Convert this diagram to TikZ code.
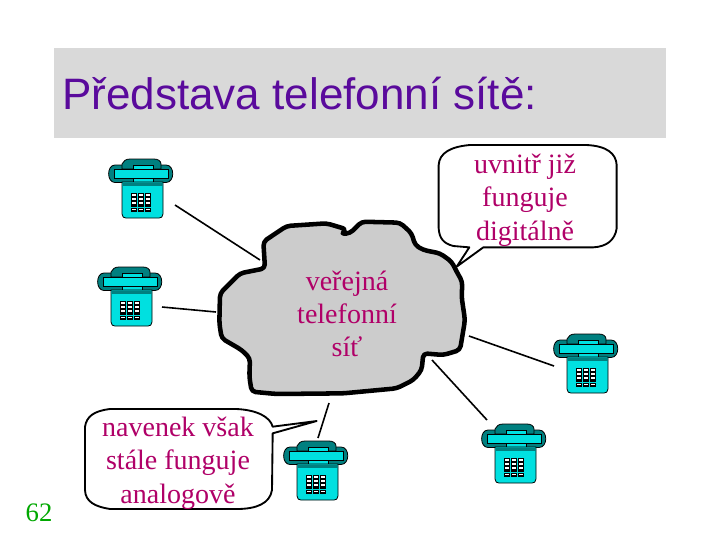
\documentclass[tikz,border=0pt]{standalone}
\usepackage{fontspec}
\setmainfont{Liberation Serif}
\newfontfamily\titlefont{Liberation Sans}
\definecolor{titlegray}{HTML}{D9D9D9}
\definecolor{titleink}{HTML}{5A0A9C}
\definecolor{labelink}{HTML}{B00068}
\definecolor{numink}{HTML}{00A800}
\definecolor{cloudgray}{HTML}{CCCCCC}
\definecolor{phonebright}{HTML}{00E0E0}
\definecolor{phonedark}{HTML}{008080}
\tikzset{
  wire/.style={draw=black,line width=1.2pt},
  bubble/.style={draw=black,fill=white,line width=1.4pt,line join=round},
  labeltext/.style={text=labelink,font=\fontsize{21}{25}\selectfont,align=center,inner sep=0pt},
  phonepart/.style={draw=black,line width=.6pt},
  phone/.pic={
    % ear pieces
    \path[phonepart,fill=phonedark] (7,7) .. controls (-1.5,7) and (-1.5,24.5) .. (7,24.5) -- (58,24.5) .. controls (67,24.5) and (67,7) .. (58,7) -- cycle;
    % cradle
    \path[phonepart,fill=phonedark] (14,11) -- (14,6) .. controls (15,3) and (18,1) .. (22,1) -- (46,1) .. controls (50,1) and (53,3) .. (53,6) -- (53,11) -- cycle;
    % neck
    \path[phonepart,fill=phonebright] (25,7) rectangle (45,24);
    % handset bar
    \path[phonepart,fill=phonebright] (6,11) rectangle (60,20);
    % body
    \path[phonepart,fill=phonebright] (14,24) -- (55,24) -- (55,56) .. controls (55,59) and (53,60) .. (51,60) -- (18,60) .. controls (16,60) and (14,59) .. (14,56) -- cycle;
    \path[fill=phonedark] (14.5,24.5) rectangle (54.5,28);
    % key pad
    \foreach \kx in {23,30,37}{
      \fill[black] (\kx,35) rectangle ++(6,14);
      \fill[white] (\kx+1,36) rectangle ++(4,2);
      \fill[white] (\kx+1,40) rectangle ++(4,2);
      \fill[white] (\kx+1,44) rectangle ++(4,2);
      \fill[black] (\kx,49.5) rectangle ++(6,4);
      \fill[white] (\kx+1,51) rectangle ++(4,1.2);
    }
  }
}
\begin{document}
\begin{tikzpicture}[x=0.75pt,y=-0.75pt]
\useasboundingbox (0,0) rectangle (720,540);
\fill[white] (0,0) rectangle (720,540);
\fill[titlegray] (54,48) rectangle (666,138);
\node[anchor=base west,inner sep=0pt,text=titleink,font=\titlefont\fontsize{33}{36}\selectfont] (title) at (62,109) {Představa telefonní sítě:};
\node[anchor=base,inner sep=0pt,text=numink,font=\fontsize{20}{24}\selectfont] (pagenum) at (39,521) {62};

% connector ends
\coordinate (a1) at (175,205); \coordinate (b1) at (260,260);
\coordinate (a2) at (162,307); \coordinate (b2) at (216,312);
\coordinate (a3) at (554,366); \coordinate (b3) at (469,336);
\coordinate (a4) at (487,420); \coordinate (b4) at (432,360);
\coordinate (a5) at (318,438); \coordinate (b5) at (329,403);
\draw[wire] (a1) -- (b1);
\draw[wire] (a2) -- (b2);
\draw[wire] (a3) -- (b3);
\draw[wire] (a4) -- (b4);
\draw[wire] (a5) -- (b5);

% cloud
\begin{scope}[shift={(210,210)},x=0.25pt,y=-0.25pt]
\draw[fill=cloudgray,draw=black,line width=3.4pt,line join=round,rounded corners=3pt]
 (160,95) -- (230,48) -- (350,40) -- (410,58) -- (392,72) -- (420,70) -- (455,35) -- (570,38)
 -- (605,70) -- (615,105) -- (640,120) -- (690,130) -- (725,155) -- (740,185)
 -- (757,215) -- (755,262) -- (765,330) -- (750,420) -- (700,435) -- (640,430) -- (635,480)
 -- (610,510) -- (560,535) -- (400,550) -- (200,552) -- (125,545) -- (118,500) -- (120,445)
 -- (95,420) -- (35,385) -- (28,340) -- (30,250) -- (90,190) -- (165,175) -- cycle;
\end{scope}
\node[labeltext] (cloudtext) at (347,314) {veřejná\\telefonní\\síť};

% top right bubble
\begin{scope}[shift={(430,140)},x=0.25pt,y=-0.25pt]
\draw[bubble] (118,322) -- (70,318) .. controls (40,310) and (28,295) .. (26,265) -- (26,75)
 .. controls (28,40) and (60,20) .. (120,15) -- (470,15) .. controls (530,18) and (558,40) .. (560,75)
 -- (560,265) .. controls (555,300) and (530,320) .. (490,322) -- (160,322) -- (80,380) -- cycle;
\end{scope}
\node[labeltext] (toptext) at (525,200) {uvnitř již\\funguje\\digitálně};

% bottom left bubble
\begin{scope}[shift={(70,395)},x=0.25pt,y=-0.25pt]
\draw[bubble] (608,95) -- (740,78) -- (608,115) -- (606,285) .. controls (600,325) and (560,342) .. (500,342)
 -- (120,342) .. controls (75,335) and (46,320) .. (45,285) -- (45,95) .. controls (50,65) and (70,48) .. (120,42)
 -- (500,42) .. controls (560,45) and (600,65) .. (608,95) -- cycle;
\end{scope}
\node[labeltext] (lefttext) at (178,463) {navenek však\\stále funguje\\analogově};

% telephones
\pic at (108,158) {phone};
\pic at (97,266) {phone};
\pic at (553,333) {phone};
\pic at (481,423) {phone};
\pic at (283,440) {phone};
\end{tikzpicture}
\end{document}
